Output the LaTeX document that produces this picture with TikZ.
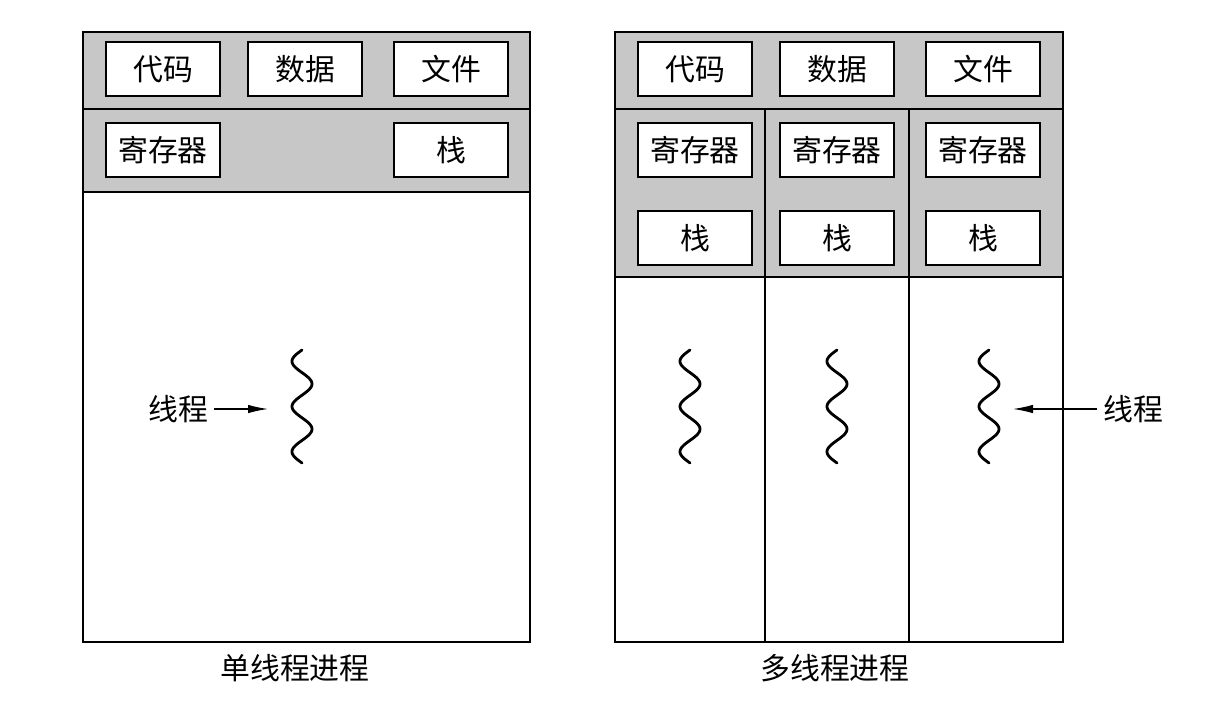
\documentclass[tikz,border=0pt]{standalone}
\usepackage{fontspec}
\setmainfont{Noto Sans CJK SC}
\usetikzlibrary{arrows.meta, positioning}

\begin{document}
\begin{tikzpicture}[
        x=0.02cm, y=-0.02cm,
        every node/.style={font=\fontsize{17pt}{20pt}\selectfont, inner sep=0pt},
        item/.style={draw, line width=1.5pt, fill=white, minimum width=2.28cm, minimum height=1.08cm},
        tag/.style={inner sep=3.5pt},
        band/.style={fill=black!22},
        frame/.style={draw, line width=1.3pt},
        divider/.style={draw, line width=0.8pt},
        wave/.style={line width=1.6pt, line cap=round},
        pointer/.style={-{Latex[length=0.4cm, width=0.17cm]}, line width=0.7pt}
    ]
    \useasboundingbox (0,0) rectangle (1208,710);

    % single-threaded process
    \fill[band] (83,32) rectangle (530,192);
    \draw[divider] (83,109) -- (530,109);
    \draw[divider] (83,192) -- (530,192);
    \draw[frame] (83,32) rectangle (530,642);
    \node[item] (code) at (163,69) {代码};
    \node[item] (data) at (305,69) {数据};
    \node[item] (file) at (451,69) {文件};
    \node[item] (reg) at (163,150) {寄存器};
    \node[item] (stack) at (451,150) {栈};
    \draw[wave] plot[domain=0:900, samples=120] ({302-10*sin(\x)}, {350+\x/900*113});
    \node[tag] (lbl) at (178,409) {线程};
    \coordinate (tip) at (268,409);
    \draw[pointer] (lbl) -- (tip);
    \node (cap) at (295,668) {单线程进程};

    % multithreaded process
    \fill[band] (615,32) rectangle (1063,277);
    \draw[divider] (615,109) -- (1063,109);
    \draw[divider] (615,277) -- (1063,277);
    \draw[divider] (765,109) -- (765,642);
    \draw[divider] (909,109) -- (909,642);
    \draw[frame] (615,32) rectangle (1063,642);
    \node[item] (code2) at (695,69) {代码};
    \node[item] (data2) at (837,69) {数据};
    \node[item] (file2) at (983,69) {文件};
    \node[item] (reg1) at (695,150) {寄存器};
    \node[item] (reg2) at (837,150) {寄存器};
    \node[item] (reg3) at (983,150) {寄存器};
    \node[item] (stack1) at (695,238) {栈};
    \node[item] (stack2) at (837,238) {栈};
    \node[item] (stack3) at (983,238) {栈};
    \draw[wave] plot[domain=0:900, samples=120] ({690-10*sin(\x)}, {350+\x/900*113});
    \draw[wave] plot[domain=0:900, samples=120] ({837-10*sin(\x)}, {350+\x/900*113});
    \draw[wave] plot[domain=0:900, samples=120] ({989-10*sin(\x)}, {350+\x/900*113});
    \node[tag] (lbl2) at (1133,409) {线程};
    \coordinate (tip2) at (1013,409);
    \draw[pointer] (lbl2) -- (tip2);
    \node (cap2) at (835,668) {多线程进程};
\end{tikzpicture}
\end{document}
